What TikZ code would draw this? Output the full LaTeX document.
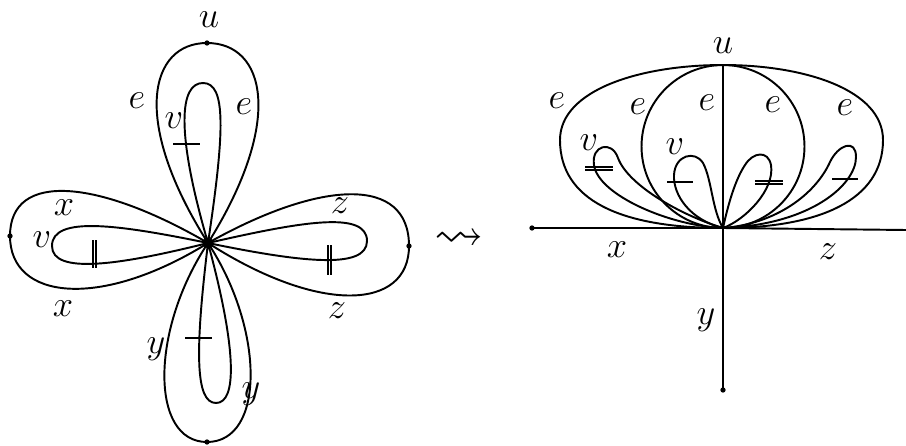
\documentclass[tikz,border=0pt]{standalone}
\usepackage{amsmath}
\usepackage{amssymb}
\usepackage{tikz}
\usetikzlibrary{positioning}
\tikzset{
  curve/.style={line width=1.1pt, line join=round},
  tick/.style={line width=0.6pt},
  lbl/.style={font=\huge, inner sep=0pt},
  dot/.style={fill=black}
}

\begin{document}
\begin{tikzpicture}[x=0.02cm, y=-0.02cm]
  \useasboundingbox (0,0) rectangle (906,446);

  % Left picture: four double loops at one vertex
  \coordinate (c) at (208,243);
  \coordinate (top) at (207,43);
  \coordinate (lft) at (10,236);
  \coordinate (rgt) at (409,246);
  \coordinate (bot) at (207,442);

  \draw[curve] (c) .. controls (130,120) and (150,43) .. (top) .. controls (265,43) and (285,120) .. (c);
  \draw[curve] (c) .. controls (175,130) and (180,83) .. (203,83) .. controls (226,83) and (225,130) .. (c);
  \draw[curve] (c) .. controls (100,180) and (10,170) .. (lft) .. controls (10,300) and (100,310) .. (c);
  \draw[curve] (c) .. controls (120,225) and (52,215) .. (52,246) .. controls (52,275) and (120,265) .. (c);
  \draw[curve] (c) .. controls (320,180) and (409,175) .. (rgt) .. controls (409,310) and (320,315) .. (c);
  \draw[curve] (c) .. controls (300,222) and (367,210) .. (367,241) .. controls (367,270) and (300,262) .. (c);
  \draw[curve] (c) .. controls (150,330) and (150,442) .. (bot) .. controls (265,442) and (265,330) .. (c);
  \draw[curve] (c) .. controls (195,350) and (195,403) .. (216,403) .. controls (237,403) and (237,350) .. (c);

  % ticks
  \draw[tick] (173,144) -- (200,144);
  \draw[tick] (93,240) -- (93,268) (96,240) -- (96,268);
  \draw[tick] (328,245) -- (328,275) (331,245) -- (331,275);
  \draw[tick] (185,338) -- (212,338);

  \fill[dot] (c) circle (3pt);
  \foreach \p in {top,lft,rgt,bot}
    \fill[dot] (\p) circle (1.5pt);

  % Labels
  \node[lbl] (lu) at (209,20) {$u$};
  \node[lbl] (le1) at (137,101) {$e$};
  \node[lbl] (le2) at (244,107) {$e$};
  \node[lbl] (lv1) at (174,121) {$v$};
  \node[lbl] (lx1) at (64,208) {$x$};
  \node[lbl] (lv2) at (42,240) {$v$};
  \node[lbl] (lx2) at (63,309) {$x$};
  \node[lbl] (lz1) at (340,206) {$z$};
  \node[lbl] (lz2) at (337,311) {$z$};
  \node[lbl] (ly1) at (156,349) {$y$};
  \node[lbl] (ly2) at (251,394) {$y$};

  \node[font=\huge, scale=1.35] (sq) at (459,240) {$\rightsquigarrow$};

  % Right picture
  \coordinate (o) at (723,228);
  \coordinate (xend) at (532,228);
  \coordinate (zend) at (906,230);
  \coordinate (uend) at (723,65);
  \coordinate (yend) at (723,390);

  \draw[curve] (xend) -- (o) -- (zend);
  \draw[curve] (uend) -- (yend);
  \fill[dot] (xend) circle (1.5pt);
  \fill[dot] (yend) circle (1.5pt);

  \draw[curve] (o) .. controls (620,228) and (560,200) .. (560,140) .. controls (560,90) and (640,65) .. (uend)
    .. controls (805,65) and (883,90) .. (883,140) .. controls (883,200) and (820,228) .. (o);
  \draw[curve] (723,146.5) circle (1.63cm);

  % petals
  \draw[curve] (o) .. controls (670,226) and (598,195) .. (594,165) .. controls (591,145) and (612,140) .. (618,158)
    .. controls (628,185) and (680,215) .. (o);
  \draw[curve] (o) .. controls (690,220) and (673,195) .. (674,175) .. controls (675,155) and (695,150) .. (703,163)
    .. controls (712,180) and (712,210) .. (o);
  \draw[curve] (o) .. controls (728,205) and (735,180) .. (745,165) .. controls (753,152) and (768,150) .. (771,165)
    .. controls (775,190) and (745,220) .. (o);
  \draw[curve] (o) .. controls (775,224) and (815,195) .. (830,162) .. controls (838,145) and (856,138) .. (856,157)
    .. controls (856,185) and (810,225) .. (o);

  \draw[tick] (585,167) -- (613,167) (585,170) -- (613,170);
  \draw[tick] (667,182) -- (693,182);
  \draw[tick] (755,181) -- (783,181) (755,184) -- (783,184);
  \draw[tick] (832,179) -- (858,179);

  \node[lbl] (ru) at (723,46) {$u$};
  \node[lbl] (re1) at (557,101) {$e$};
  \node[lbl] (re2) at (638,107) {$e$};
  \node[lbl] (re3) at (707,103) {$e$};
  \node[lbl] (re4) at (773,105) {$e$};
  \node[lbl] (re5) at (845,108) {$e$};
  \node[lbl] (rv1) at (589,143) {$v$};
  \node[lbl] (rv2) at (675,147) {$v$};
  \node[lbl] (rx) at (617,250) {$x$};
  \node[lbl] (rz) at (828,252) {$z$};
  \node[lbl] (ry) at (706,320) {$y$};
\end{tikzpicture}
\end{document}
